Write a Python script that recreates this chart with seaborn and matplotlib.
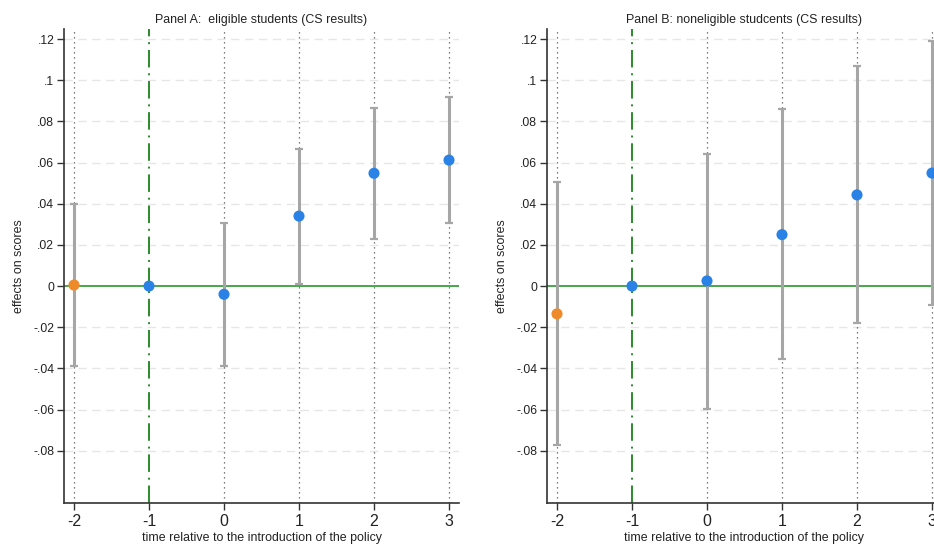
import numpy as np
import pandas as pd
import matplotlib
matplotlib.use("Agg")
import matplotlib.pyplot as plt
import seaborn as sns

# ---- data ----
periods = [-2, -1, 0, 1, 2, 3]
groups = ["pre", "ref", "post", "post", "post", "post"]

a_est = [0.0005, 0.0, -0.0040, 0.0340, 0.0548, 0.0612]
a_lo = [-0.0390, np.nan, -0.0390, 0.0012, 0.0230, 0.0308]
a_hi = [0.0398, np.nan, 0.0308, 0.0665, 0.0865, 0.0920]

b_est = [-0.0135, 0.0, 0.0025, 0.0250, 0.0443, 0.0549]
b_lo = [-0.0770, np.nan, -0.0595, -0.0355, -0.0180, -0.0092]
b_hi = [0.0505, np.nan, 0.0640, 0.0862, 0.1069, 0.1190]

titles = ["Panel A:  eligible students (CS results)",
          "Panel B: noneligible studcents (CS results)"]
xlabel = "time relative to the introduction of the policy"
ylabel = "effects on scores"
yticks = [-0.08, -0.06, -0.04, -0.02, 0.0, 0.02, 0.04, 0.06, 0.08, 0.10, 0.12]
ytick_labels = ["-.08", "-.06", "-.04", "-.02", "0", ".02", ".04", ".06", ".08", ".1", ".12"]
xtick_labels = ["-2", "-1", "0", "1", "2", "3"]

palette = {"pre": "#ee8a2a", "ref": "#2b82e6", "post": "#2b82e6"}

sns.set_theme(style="white")
plt.rcParams["font.family"] = ["Liberation Sans", "DejaVu Sans"]

W, H = 934, 547
fig = plt.figure(figsize=(W / 100, H / 100), dpi=100)
fig.patch.set_facecolor("white")

def px_axes(left, top, right, bottom):
    return fig.add_axes([left / W, 1 - bottom / H, (right - left) / W, (bottom - top) / H])

axA = px_axes(64, 29, 459, 503)
axB = px_axes(547, 29, 942, 503)

def draw(ax, est, lo, hi, title):
    df = pd.DataFrame({"period": periods, "est": est, "lo": lo, "hi": hi, "group": groups})
    ax.set_facecolor("white")
    # horizontal dashed grid
    for y in yticks:
        if y != 0:
            ax.axhline(y, color="#e6e6e6", lw=1.0, ls=(0, (6, 4)), zorder=0)
    # vertical dotted lines
    for x in periods:
        if x != -1:
            ax.axvline(x, color="#555555", lw=0.9, ls=(0, (1, 3)), zorder=1)
    ax.axvline(-1, color="#2b8a2b", lw=1.4, ls=(0, (9, 3, 1, 3)), zorder=1)
    ax.axhline(0, color="#3aa03a", lw=1.3, zorder=2)
    ci = df.dropna()
    ax.errorbar(ci["period"], ci["est"],
                yerr=[ci["est"] - ci["lo"], ci["hi"] - ci["est"]],
                fmt="none", ecolor="#a6a6a6", elinewidth=2.2, capsize=2.6,
                capthick=1.6, zorder=3)
    sns.scatterplot(data=df, x="period", y="est", hue="group", palette=palette,
                    s=64, edgecolor="none", linewidth=0, legend=False, ax=ax, zorder=4)
    ax.set_xlim(-2 - 10 / 75, 3 + 10 / 75)
    ax.set_ylim(-0.1054, 0.1249)
    ax.set_xticks(periods)
    ax.set_xticklabels(xtick_labels, fontsize=11.5, color="#222222")
    ax.set_yticks(yticks)
    ax.set_yticklabels(ytick_labels, fontsize=8.7, color="#222222")
    ax.tick_params(axis="both", which="both", bottom=True, left=True,
                   direction="out", length=5, width=1, color="#333333")
    ax.tick_params(axis="y", pad=2)
    ax.tick_params(axis="x", pad=3)
    for s in ["top", "right"]:
        ax.spines[s].set_visible(False)
    for s in ["left", "bottom"]:
        ax.spines[s].set_color("#333333")
        ax.spines[s].set_linewidth(1.2)
    ax.set_xlabel(xlabel, fontsize=8.9, color="#222222", labelpad=2)
    ax.set_ylabel(ylabel, fontsize=8.9, color="#222222", labelpad=6)
    ax.set_title(title, fontsize=8.9, color="#222222", pad=4)

draw(axA, a_est, a_lo, a_hi, titles[0])
draw(axB, b_est, b_lo, b_hi, titles[1])

fig.savefig("out.png", dpi=100, facecolor="white")
